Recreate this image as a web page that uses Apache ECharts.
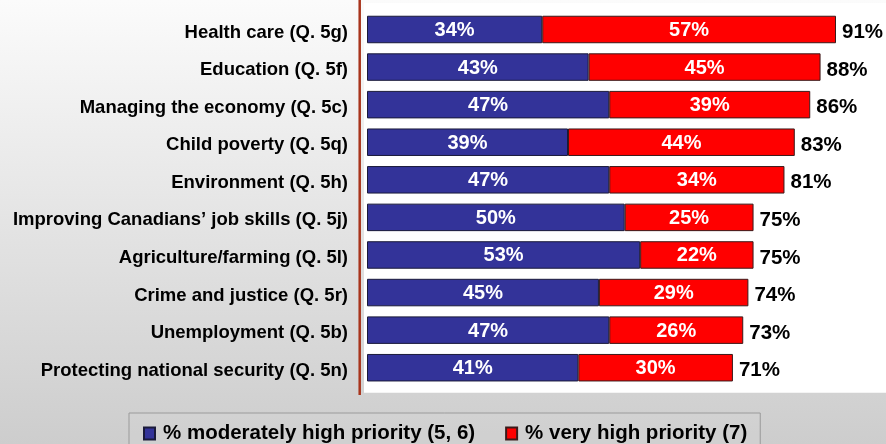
<!DOCTYPE html>
<html>
<head>
<meta charset="utf-8">
<script src="https://cdn.jsdelivr.net/npm/echarts@6/dist/echarts.min.js"></script>
<style>
html,body{margin:0;padding:0;}
#c{width:886px;height:444px;}
</style>
</head>
<body>
<div id="c"></div>
<script>
const categories = [
  "Health care (Q. 5g)",
  "Education (Q. 5f)",
  "Managing the economy (Q. 5c)",
  "Child poverty (Q. 5q)",
  "Environment (Q. 5h)",
  "Improving Canadians\u2019 job skills (Q. 5j)",
  "Agriculture/farming (Q. 5l)",
  "Crime and justice (Q. 5r)",
  "Unemployment (Q. 5b)",
  "Protecting national security (Q. 5n)"
];
const moderateHigh = [34, 43, 47, 39, 47, 50, 53, 45, 47, 41];
const veryHigh = [57, 45, 39, 44, 34, 25, 22, 29, 26, 30];
const totals = [91, 88, 86, 83, 81, 75, 75, 74, 73, 71];
const seriesNames = ["% moderately high priority (5, 6)", "% very high priority (7)"];

const FONT = "'Liberation Sans', Arial, sans-serif";
const chart = echarts.init(document.getElementById('c'), null, {renderer: 'canvas'});
const barW = 27.5;
const option = {
  animation: false,
  backgroundColor: {
    type: 'linear', x: 0, y: 0, x2: 0, y2: 1,
    colorStops: [{offset: 0, color: '#fbfbfb'}, {offset: 1, color: '#cdcdcd'}]
  },
  graphic: [
    {type: 'rect', shape: {x: 364, y: 3, width: 522, height: 389.7}, style: {fill: '#ffffff'}, z: -10, silent: true},
    {type: 'line', shape: {x1: 359.7, y1: 0, x2: 359.7, y2: 395}, style: {stroke: '#a8341c', lineWidth: 2.5}, z: 10, silent: true}
  ],
  grid: {left: 367, right: 3.6, top: 10.7, bottom: 57.5, containLabel: false},
  xAxis: {
    type: 'value', min: 0, max: 100, show: false
  },
  yAxis: {
    type: 'category', data: categories, inverse: true,
    axisLine: {show: false}, axisTick: {show: false},
    axisLabel: {
      margin: 19,
      formatter: v => '{a|' + v + '}',
      rich: {
        a: {color: '#000', fontFamily: FONT, fontWeight: 'bold', fontSize: 18.5, padding: [6, 0, 0, 0]}
      }
    }
  },
  legend: {
    data: seriesNames,
    left: 129, top: 413,
    orient: 'horizontal',
    padding: [10, 13, 40, 14],
    itemWidth: 11, itemHeight: 12, itemGap: 30,
    borderColor: '#9a9a9a', borderWidth: 1,
    backgroundColor: 'rgba(220,220,220,0.2)',
    icon: 'rect',
    textStyle: {color: '#000', fontFamily: FONT, fontWeight: 'bold', fontSize: 20.5, padding: [0, 0, 0, 3]},
    selectedMode: false
  },
  series: [
    {
      name: seriesNames[0], type: 'bar', stack: 'a', data: moderateHigh, barWidth: barW,
      itemStyle: {color: '#333399', borderColor: '#1a1a3a', borderWidth: 1},
      label: {show: true, position: 'inside', offset: [0, 1], color: '#fff', fontFamily: FONT, fontWeight: 'bold', fontSize: 20, formatter: p => p.value + '%'}
    },
    {
      name: seriesNames[1], type: 'bar', stack: 'a', data: veryHigh, barWidth: barW,
      itemStyle: {color: '#ff0000', borderColor: '#3a1a1a', borderWidth: 1},
      label: {show: true, position: 'inside', offset: [0, 1], color: '#fff', fontFamily: FONT, fontWeight: 'bold', fontSize: 20, formatter: p => p.value + '%'}
    },
    {
      name: 'Total', type: 'bar', data: totals, barWidth: barW, barGap: '-100%', z: 1,
      itemStyle: {color: 'rgba(0,0,0,0)'}, silent: true,
      label: {show: true, position: 'right', distance: 6, offset: [0, 3], color: '#000', fontFamily: FONT, fontWeight: 'bold', fontSize: 20.5, formatter: p => p.value + '%'}
    }
  ]
};
chart.setOption(option);
</script>
</body>
</html>
